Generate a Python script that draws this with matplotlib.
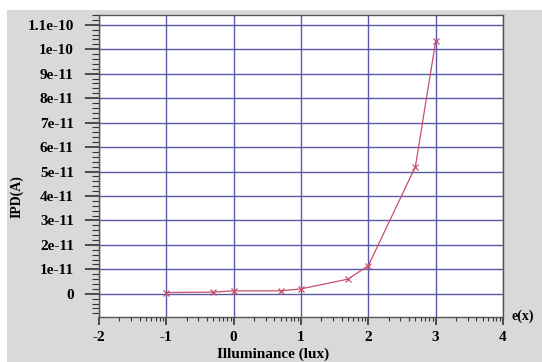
import numpy as np
import matplotlib
matplotlib.use('Agg')
import matplotlib.pyplot as plt
from matplotlib.patches import Rectangle
from matplotlib.ticker import FixedLocator, MultipleLocator

# illuminance in lux, plotted as log10
lux = [0.1, 0.5, 1, 5, 10, 50, 100, 500, 1000]
ipd = [0.05e-11, 0.07e-11, 0.12e-11, 0.12e-11, 0.2e-11, 0.6e-11, 1.15e-11, 5.2e-11, 10.33e-11]
xticks = [-2, -1, 0, 1, 2, 3, 4]
yticks = [0, 1e-11, 2e-11, 3e-11, 4e-11, 5e-11, 6e-11, 7e-11, 8e-11, 9e-11, 1e-10, 1.1e-10]
ylabels = ['0', '1e-11', '2e-11', '3e-11', '4e-11', '5e-11', '6e-11', '7e-11',
           '8e-11', '9e-11', '1e-10', '1.1e-10']

plt.rcParams['font.family'] = 'Liberation Serif'
plt.rcParams['font.weight'] = 'bold'

fig = plt.figure(figsize=(5.42, 3.62), dpi=100)
fig.patch.set_facecolor('white')
# grey panel behind the plot
fig.patches.append(Rectangle((7/542, 0), 535/542, 352/362, transform=fig.transFigure,
                             facecolor='#d9d9d9', edgecolor='none', zorder=-5))

ax = fig.add_axes([99/542, 1 - 317/362, 404/542, 302/362])
ax.set_facecolor('white')

x = np.log10(lux)
ax.plot(x, ipd, color='#c8506a', lw=0.9, marker='x', ms=4, mew=0.9, zorder=3)

ax.set_xlim(-2, 4)
ax.set_ylim(-0.95e-11, 1.14e-10)
ax.set_xticks(xticks)
ax.set_xticklabels([str(t) for t in xticks])
minor = [d + np.log10(k) for d in range(-2, 4) for k in range(2, 10)]
ax.xaxis.set_minor_locator(FixedLocator(minor))
ax.set_yticks(yticks)
ax.set_yticklabels(ylabels)
ax.yaxis.set_minor_locator(MultipleLocator(0.2e-11))

ax.grid(True, which='major', color='#5a5aa8', lw=1.0)
ax.tick_params(axis='y', which='major', direction='out', length=10, width=1.2,
               color='#333333', labelsize=11, pad=8)
ax.tick_params(axis='y', which='minor', direction='out', length=5, width=0.8, color='#333333')
ax.tick_params(axis='x', which='major', direction='out', length=6, width=1.2,
               color='#333333', labelsize=11, pad=4)
ax.tick_params(axis='x', which='minor', direction='out', length=3, width=0.8, color='#333333')
for s in ax.spines.values():
    s.set_color('#555555')
    s.set_linewidth(1.0)

ax.set_xlabel('Illuminance (lux)', fontsize=11, fontweight='bold', va='center', ha='left')
ax.xaxis.set_label_coords((217 - 99) / 404, (317 - 354) / 302)
ax.set_ylabel('IPD(A)', fontsize=10, fontweight='bold', va='center')
ax.yaxis.set_label_coords((17 - 99) / 404, (317 - 197) / 302)
fig.text(523/542, 1 - 316/362, 'e(x)', fontsize=10, fontweight='bold',
         ha='center', va='center')

fig.savefig('out.png', dpi=100)
